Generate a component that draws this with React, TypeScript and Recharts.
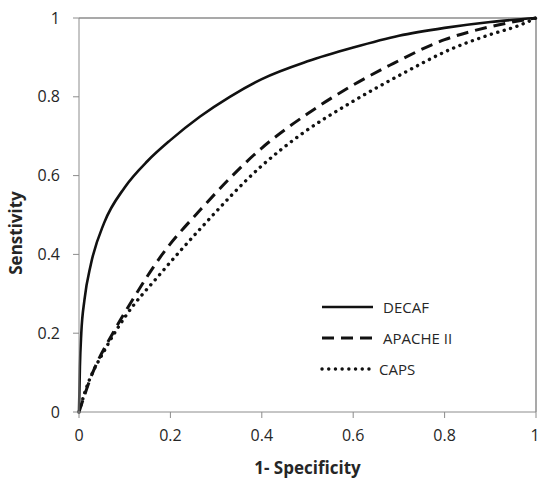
import React from 'react';
import { LineChart, Line, XAxis, YAxis, ReferenceLine, Legend, Label } from 'recharts';

// ROC points
const decafX = [0, 0.002, 0.005, 0.012, 0.026, 0.055, 0.1, 0.15, 0.2, 0.265, 0.33, 0.4, 0.5, 0.6, 0.7, 0.8, 0.9, 1];
const decafY = [0, 0.115, 0.2, 0.285, 0.375, 0.48, 0.57, 0.637, 0.69, 0.75, 0.8, 0.845, 0.89, 0.925, 0.955, 0.975, 0.99, 1];

const apacheX = [0, 0.03, 0.074, 0.12, 0.179, 0.267, 0.4, 0.5, 0.6, 0.68, 0.8, 0.9, 1];
const apacheY = [0, 0.1, 0.2, 0.29, 0.395, 0.515, 0.67, 0.757, 0.83, 0.88, 0.945, 0.978, 1];

const capsX = [0, 0.012, 0.06, 0.1, 0.179, 0.267, 0.4, 0.484, 0.593, 0.702, 0.818, 0.9, 0.965, 1];
const capsY = [0, 0.047, 0.165, 0.24, 0.352, 0.467, 0.625, 0.703, 0.784, 0.855, 0.923, 0.958, 0.982, 1];

const seriesNames = ['DECAF', 'APACHE II', 'CAPS'];
const ticks = [0, 0.2, 0.4, 0.6, 0.8, 1];

const toPoints = (xs: number[], ys: number[]) => xs.map((x, i) => ({ x, y: ys[i] }));

const FONT = '"Open Sans", sans-serif';
const AXIS = '#8c8c8c';
const TEXT = '#262626';

const LegendBox = ({ payload }: any) => {
  const items = [...(payload || [])].sort(
    (a: any, b: any) => seriesNames.indexOf(a.value) - seriesNames.indexOf(b.value)
  );
  return (
    <svg width={190} height={90} style={{ display: 'block' }}>
      {items.map((p: any, i: number) => {
        const y = 12 + i * 31;
        const dots = p.payload.strokeLinecap === 'round';
        return (
          <g key={p.value}>
            <line
              x1={4}
              x2={dots ? 52 : 55}
              y1={y}
              y2={y}
              stroke="#111"
              strokeWidth={p.payload.strokeWidth}
              strokeDasharray={p.payload.strokeDasharray}
              strokeLinecap={dots ? 'round' : 'butt'}
            />
            <text x={dots ? 61 : 65} y={y + 5.5} fontFamily={FONT} fontSize={15} fill={TEXT}>
              {p.value}
            </text>
          </g>
        );
      })}
    </svg>
  );
};

export default function App() {
  const decaf = toPoints(decafX, decafY);
  const apache = toPoints(apacheX, apacheY);
  const caps = toPoints(capsX, capsY);

  return (
    <div style={{ position: 'absolute', left: 0, top: 0, background: '#fff' }}>
      <LineChart width={539} height={479} margin={{ top: 18, right: 3, bottom: 0, left: 0 }}>
        <XAxis
          type="number"
          dataKey="x"
          domain={[0, 1]}
          ticks={ticks}
          stroke={AXIS}
          tickSize={6}
          tickMargin={12}
          height={67}
          tick={{ fill: TEXT, fontSize: 16, fontFamily: FONT }}
        >
          <Label
            content={() => (
              <text x={307.5} y={474} textAnchor="middle" fontFamily={FONT} fontSize={17} fontWeight="bold" fill={TEXT}>
                1- Specificity
              </text>
            )}
          />
        </XAxis>
        <YAxis
          type="number"
          domain={[0, 1]}
          ticks={ticks}
          stroke={AXIS}
          tickSize={6}
          tickMargin={13}
          width={79}
          tick={{ fill: TEXT, fontSize: 16, fontFamily: FONT }}
        >
          <Label
            content={() => (
              <text
                x={22}
                y={233}
                textAnchor="middle"
                transform="rotate(-90 22 233)"
                fontFamily={FONT}
                fontSize={17}
                fontWeight="bold"
                fill={TEXT}
              >
                Senstivity
              </text>
            )}
          />
        </YAxis>
        <ReferenceLine y={1} stroke={AXIS} strokeWidth={1.5} />
        <ReferenceLine x={1} stroke={AXIS} strokeWidth={1.5} />
        <Line
          data={decaf}
          dataKey="y"
          name="DECAF"
          type="monotone"
          stroke="#111"
          strokeWidth={2.6}
          dot={false}
          isAnimationActive={false}
        />
        <Line
          data={apache}
          dataKey="y"
          name="APACHE II"
          type="monotone"
          stroke="#111"
          strokeWidth={3}
          strokeDasharray="12 7"
          dot={false}
          isAnimationActive={false}
        />
        <Line
          data={caps}
          dataKey="y"
          name="CAPS"
          type="monotone"
          stroke="#111"
          strokeWidth={3.4}
          strokeDasharray="0.1 6.6"
          strokeLinecap="round"
          dot={false}
          isAnimationActive={false}
        />
        <Legend
          layout="vertical"
          align="center"
          verticalAlign="middle"
          content={<LegendBox />}
          wrapperStyle={{ position: 'absolute', left: 318, top: 295, width: 190, height: 90 }}
        />
      </LineChart>
    </div>
  );
}
